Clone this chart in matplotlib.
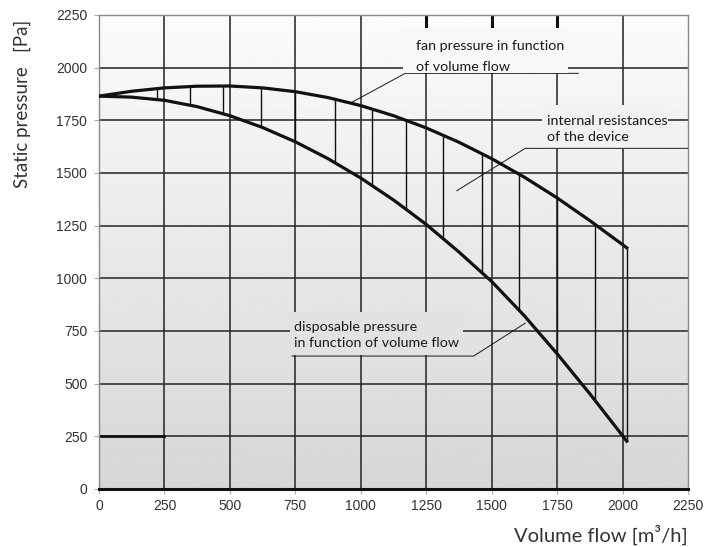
import numpy as np
import matplotlib.pyplot as plt
from matplotlib.patches import Rectangle

plt.rcParams['font.family'] = ['Liberation Sans', 'DejaVu Sans']

# volume flow [m3/h] and static pressure [Pa]
flow = [0, 125, 250, 375, 500, 625, 750, 875, 1000, 1125, 1250, 1375,
        1500, 1625, 1750, 1875, 2000, 2016]
fan_pressure = [1865, 1888, 1904, 1912, 1913, 1904, 1886, 1858, 1820, 1772,
                1714, 1646, 1568, 1480, 1382, 1274, 1160, 1145]
disposable_pressure = [1865, 1860, 1845, 1815, 1772, 1716, 1648, 1568, 1476,
                       1372, 1256, 1125, 985, 822, 642, 452, 253, 227]

# flows where the hatch lines (internal resistances) are drawn
hatch_flow = [220, 348, 475, 618, 750, 902, 1042, 1172, 1316, 1462, 1603,
              1750, 1896, 2016]

ticks = [0, 250, 500, 750, 1000, 1250, 1500, 1750, 2000, 2250]

label_fan = "fan pressure in function\nof volume flow"
label_internal = "internal resistances\nof the device"
label_disposable = "disposable pressure\nin function of volume flow"

bg_lo, bg_hi = 0.84, 0.985


def bg(y):
    g = bg_lo + (bg_hi - bg_lo) * y / 2250
    return (g, g, g)


fig = plt.figure(figsize=(7.05, 5.47), dpi=100)
ax = fig.add_axes([99 / 705, 1 - 489 / 547, 589 / 705, 474 / 547])

grad = np.linspace(bg_lo, bg_hi, 256).reshape(-1, 1)
ax.imshow(grad, cmap='gray', vmin=0, vmax=1, origin='lower',
          extent=[0, 2250, 0, 2250], aspect='auto', zorder=0)

grid_c = '#2a2a2a'
for t in ticks[1:-1]:
    ax.axvline(t, color=grid_c, lw=1.15, zorder=1)
    ax.axhline(t, color=grid_c, lw=1.15, zorder=1)

# heavier stubs at top and the 250 line on the left
for t in [1250, 1500, 1750]:
    ax.plot([t, t], [2187, 2250], color='#111111', lw=2.2, zorder=1.2,
            solid_capstyle='butt')
ax.plot([0, 250], [250, 250], color='#111111', lw=2.0, zorder=1.2)

# boxes that clear the grid behind the labels
for x0, x1, y0, y1 in [(1162, 1793, 1973, 2187), (1692, 2175, 1614, 1823),
                       (730, 1391, 636, 842)]:
    ax.add_patch(Rectangle((x0, y0), x1 - x0, y1 - y0,
                           facecolor=bg((y0 + y1) / 2), edgecolor='none',
                           zorder=1.5))

# leader lines
lc = '#1a1a1a'
ax.plot([959, 1170, 1831], [1831, 1973, 1973], color=lc, lw=0.7, zorder=1.4)
ax.plot([1367, 1628, 2250], [1416, 1617, 1617], color=lc, lw=0.7, zorder=3)
ax.plot([737, 1431, 1628], [631, 631, 787], color=lc, lw=0.7, zorder=3)

tfont = dict(family=['Lato', 'DejaVu Sans'], fontsize=10.3, color='#1a1a1a',
             ha='left', va='center', zorder=4)
ax.text(1212, 2054, label_fan, linespacing=1.9, **tfont)
ax.text(1711, 1709, label_internal, linespacing=1.45, **tfont)
ax.text(743, 729, label_disposable, linespacing=1.4, **tfont)

# hatch between the two curves
top = np.interp(hatch_flow, flow, fan_pressure)
bot = np.interp(hatch_flow, flow, disposable_pressure)
ax.vlines(hatch_flow, bot, top, color='#111111', lw=1.0, zorder=3)

ax.plot(flow, fan_pressure, color='#111111', lw=2.3, zorder=4)
ax.plot(flow, disposable_pressure, color='#111111', lw=2.3, zorder=4)

ax.set_xlim(0, 2250)
ax.set_ylim(0, 2250)
ax.set_xticks(ticks)
ax.set_yticks(ticks)
ax.tick_params(direction='out', length=3.5, width=0.8, color='#aaaaaa',
               labelsize=10, labelcolor='#333333')
ax.tick_params(axis='y', pad=5)
ax.tick_params(axis='x', pad=4)

for s in ['left', 'top', 'right']:
    ax.spines[s].set_color('#888888')
    ax.spines[s].set_linewidth(1.0)
ax.spines['bottom'].set_color('#111111')
ax.spines['bottom'].set_linewidth(2.2)

fig.text(22 / 705, 1 - 104 / 547, "Static pressure   [Pa]", rotation=90,
         ha='center', va='center', fontsize=13.5, color='#333333',
         family=['Lato', 'DejaVu Sans'])
fig.text(688 / 705, 1 - 535 / 547, "Volume flow [m³/h]", ha='right',
         va='center', fontsize=14.5, color='#333333',
         family=['Lato', 'DejaVu Sans'])

fig.savefig("out.png", dpi=100)
